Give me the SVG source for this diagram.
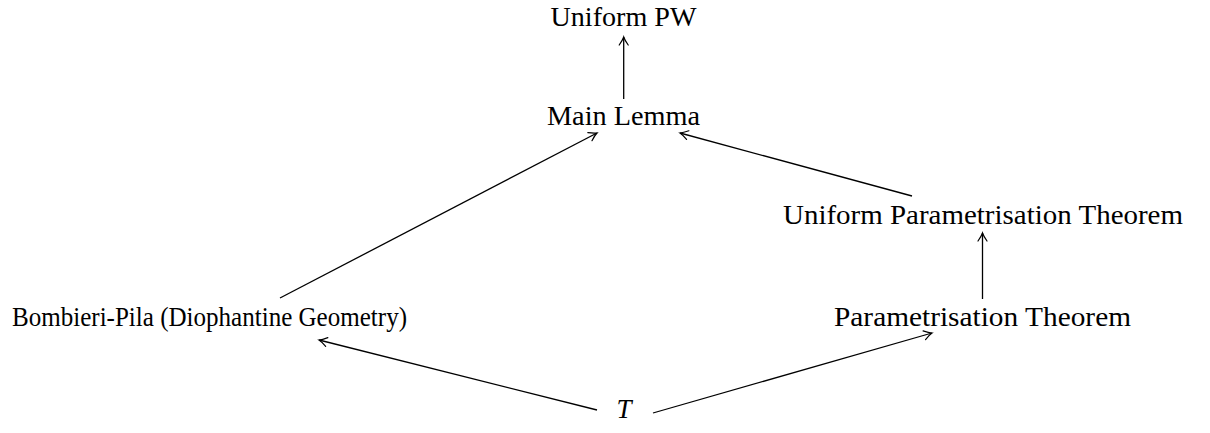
<svg xmlns="http://www.w3.org/2000/svg" width="1210" height="433" viewBox="0 0 1210 433">
<style>
text{font-family:"Liberation Serif","Times New Roman",serif;font-size:27px;fill:#000;text-anchor:middle}
.e{stroke:#000;stroke-width:1.3;fill:none;marker-end:url(#ah)}
</style>
<defs>
<marker id="ah" markerUnits="userSpaceOnUse" markerWidth="14" markerHeight="14" viewBox="-10 -7 12 14" refX="0" refY="0" orient="auto">
<path d="M-8,-4.5 Q-3,-1 0,0 Q-3,1 -8,4.5" fill="none" stroke="#000" stroke-width="1.2" stroke-linecap="round"/>
</marker>
</defs>
<rect width="1210" height="433" fill="#fff"/>
<g id="connectors">
<line class="e" x1="623.7" y1="99" x2="623.7" y2="37"/>
<line class="e" x1="280" y1="298" x2="597" y2="133"/>
<line class="e" x1="912" y1="196" x2="680" y2="133"/>
<line class="e" x1="982.5" y1="299" x2="982.5" y2="233"/>
<line class="e" x1="597" y1="410" x2="319" y2="340"/>
<line class="e" x1="653" y1="413" x2="932" y2="333"/>
</g>
<g id="uniform-pw"><text x="623.5" y="26" textLength="146" lengthAdjust="spacingAndGlyphs">Uniform PW</text></g>
<g id="main-lemma"><text x="623.5" y="125" textLength="153" lengthAdjust="spacingAndGlyphs">Main Lemma</text></g>
<g id="upt"><text x="983" y="224" textLength="400" lengthAdjust="spacingAndGlyphs">Uniform Parametrisation Theorem</text></g>
<g id="bombieri-pila"><text x="209.5" y="326" textLength="395" lengthAdjust="spacingAndGlyphs">Bombieri-Pila (Diophantine Geometry)</text></g>
<g id="parametrisation"><text x="982.5" y="326" textLength="297" lengthAdjust="spacingAndGlyphs">Parametrisation Theorem</text></g>
<g id="t"><text x="624" y="418" font-style="italic">T</text></g>
</svg>
